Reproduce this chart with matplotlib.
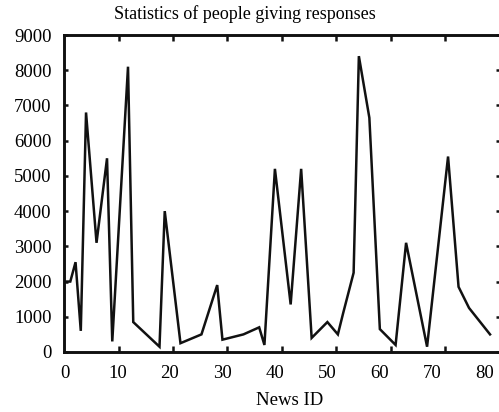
import matplotlib
matplotlib.use("Agg")
import matplotlib.pyplot as plt
from matplotlib.ticker import FixedLocator, NullFormatter

plt.rcParams["font.family"] = ["Liberation Serif", "DejaVu Serif"]

# News IDs and number of people responding to each
news_id = [0, 1, 2, 3, 4, 6, 8, 9, 12, 13, 18, 19, 22, 26, 29, 30, 34, 37,
           38, 40, 43, 45, 47, 50, 52, 53, 55, 56, 58, 60, 63, 65, 69, 73,
           75, 77, 81]
responses = [2000, 2000, 2550, 600, 6800, 3100, 5500, 300, 8100, 850, 150,
             4000, 250, 500, 1900, 350, 500, 700, 200, 5200, 1350, 5200, 400,
             850, 500, 1100, 2250, 8400, 6650, 650, 200, 3100, 150, 5550,
             1850, 1250, 500]
x_ticks = [0, 10, 20, 30, 40, 50, 60, 70, 80]
y_ticks = [0, 1000, 2000, 3000, 4000, 5000, 6000, 7000, 8000, 9000]

fig = plt.figure(figsize=(4.99, 4.12), dpi=100)
ax = fig.add_axes([64 / 499, 60 / 412, 436 / 499, 317 / 412])

ax.plot(news_id, responses, color="#111111", linewidth=1.8,
        solid_joinstyle="miter")

x0, x1 = -0.2, 82.9
ax.set_xlim(x0, x1)
ax.set_ylim(0, 9000)

# labelled positions, no marks
ax.set_xticks(x_ticks)
ax.set_xticklabels([str(t) for t in x_ticks])
ax.tick_params(axis="x", which="major", length=0, pad=9, labelsize=13.5)

# tick marks splitting the box into eighths
marks = [x0 + (x1 - x0) * k / 8 for k in range(1, 8)]
ax.xaxis.set_minor_locator(FixedLocator(marks))
ax.xaxis.set_minor_formatter(NullFormatter())
ax.tick_params(axis="x", which="minor", direction="in", length=4, width=1.8,
               top=True, bottom=True, color="#111111")

ax.set_yticks(y_ticks)
ax.tick_params(axis="y", direction="in", length=3, width=1.8, left=True,
               right=True, pad=9, labelsize=13.5, color="#111111")

for s in ax.spines.values():
    s.set_linewidth(2.1)
    s.set_color("#111111")

ax.set_xlabel("News ID", fontsize=13.5)
ax.xaxis.set_label_coords(226 / 436, -40 / 317)
fig.text(0.49, 0.966, "Statistics of people giving responses",
         ha="center", va="center", fontsize=13)

fig.savefig("out.png", dpi=100)
